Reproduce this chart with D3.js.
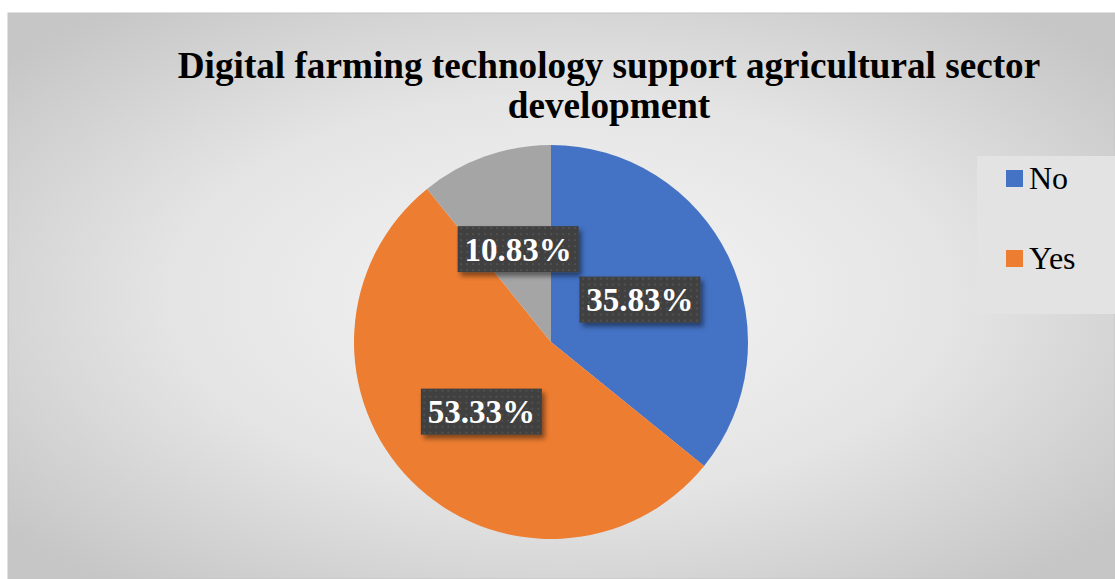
<!DOCTYPE html>
<html>
<head>
<meta charset="utf-8">
<script src="https://cdn.jsdelivr.net/npm/d3@7"></script>
<style>
  html, body { margin: 0; padding: 0; background: #ffffff; }
  svg { display: block; }
</style>
</head>
<body>
<svg id="chart" width="1115" height="579"></svg>
<script>
// Survey answers: does digital farming technology support agricultural sector development?
const categories = ["No", "Yes", "Other"];
const shares = [35.83, 53.33, 10.83];
const sliceColors = ["#4472C4", "#ED7D31", "#A5A5A5"];
const legendItems = ["No", "Yes"];
const titleLines = ["Digital farming technology support agricultural sector", "development"];

const svg = d3.select("#chart");
const W = 1115, H = 579;
const frame = { x: 8, y: 13, w: W - 8, h: H - 13 };
const serif = "'Liberation Serif', 'Times New Roman', serif";

const defs = svg.append("defs");

// soft radial backdrop
const bg = defs.append("radialGradient").attr("id", "bgGrad")
  .attr("cx", "50%").attr("cy", "50%").attr("r", "65%");
bg.append("stop").attr("offset", "0%").attr("stop-color", "#f5f5f5");
bg.append("stop").attr("offset", "55%").attr("stop-color", "#e4e4e4");
bg.append("stop").attr("offset", "100%").attr("stop-color", "#c6c6c6");

// dotted dark fill for the value boxes
const pat = defs.append("pattern").attr("id", "dots")
  .attr("patternUnits", "userSpaceOnUse").attr("width", 6).attr("height", 6);
pat.append("rect").attr("width", 6).attr("height", 6).attr("fill", "#3f3f3f");
pat.append("circle").attr("cx", 3).attr("cy", 3).attr("r", 1.1).attr("fill", "#555555");

const shadow = defs.append("filter").attr("id", "boxShadow")
  .attr("x", "-20%").attr("y", "-30%").attr("width", "150%").attr("height", "180%");
shadow.append("feDropShadow").attr("dx", 3).attr("dy", 4).attr("stdDeviation", 2.5)
  .attr("flood-color", "#000").attr("flood-opacity", 0.45);

svg.append("rect")
  .attr("x", frame.x).attr("y", frame.y).attr("width", frame.w).attr("height", frame.h)
  .attr("fill", "url(#bgGrad)").attr("stroke", "#c4c4c4").attr("stroke-width", 1);

// title
const title = svg.append("text")
  .attr("text-anchor", "middle")
  .attr("font-family", serif)
  .attr("font-weight", "bold").attr("font-size", 37.2).attr("fill", "#000");
titleLines.forEach((line, i) => {
  title.append("tspan").attr("x", 609).attr("y", 78 + i * 40).text(line);
});

// pie
const cx = 551, cy = 342, radius = 197;
const pie = d3.pie().sort(null).value(d => d.value);
const arcs = pie(categories.map((c, i) => ({ name: c, value: shares[i], color: sliceColors[i] })));
const arc = d3.arc().innerRadius(0).outerRadius(radius);

const g = svg.append("g").attr("transform", `translate(${cx},${cy})`);
g.selectAll("path.slice").data(arcs).join("path")
  .attr("class", "slice")
  .attr("d", arc)
  .attr("fill", d => d.data.color);

// value boxes at slice centroids
const fmt = d => d.toFixed(2) + "%";
const boxW = 121, boxH = 46;
const labels = g.selectAll("g.lbl").data(arcs).join("g")
  .attr("class", "lbl")
  .attr("transform", d => { const [x, y] = arc.centroid(d); return `translate(${x},${y})`; });
labels.append("rect")
  .attr("x", -boxW / 2).attr("y", -boxH / 2).attr("width", boxW).attr("height", boxH)
  .attr("fill", "url(#dots)").attr("filter", "url(#boxShadow)");
labels.append("text")
  .attr("text-anchor", "middle").attr("dy", "0.35em")
  .attr("font-family", serif)
  .attr("font-weight", "bold").attr("font-size", 33).attr("fill", "#ffffff")
  .text(d => fmt(d.data.value));

// legend
const legend = svg.append("g");
legend.append("rect")
  .attr("x", 977).attr("y", 156).attr("width", 140).attr("height", 158)
  .attr("fill", "#e3e3e3");
const items = legend.selectAll("g.item").data(legendItems).join("g")
  .attr("class", "item")
  .attr("transform", (d, i) => `translate(1006,${170 + i * 80})`);
items.append("rect").attr("width", 17).attr("height", 17)
  .attr("fill", d => sliceColors[categories.indexOf(d)]);
items.append("text")
  .attr("x", 23).attr("y", 19)
  .attr("font-family", serif)
  .attr("font-size", 32).attr("fill", "#000")
  .text(d => d);
</script>
</body>
</html>
